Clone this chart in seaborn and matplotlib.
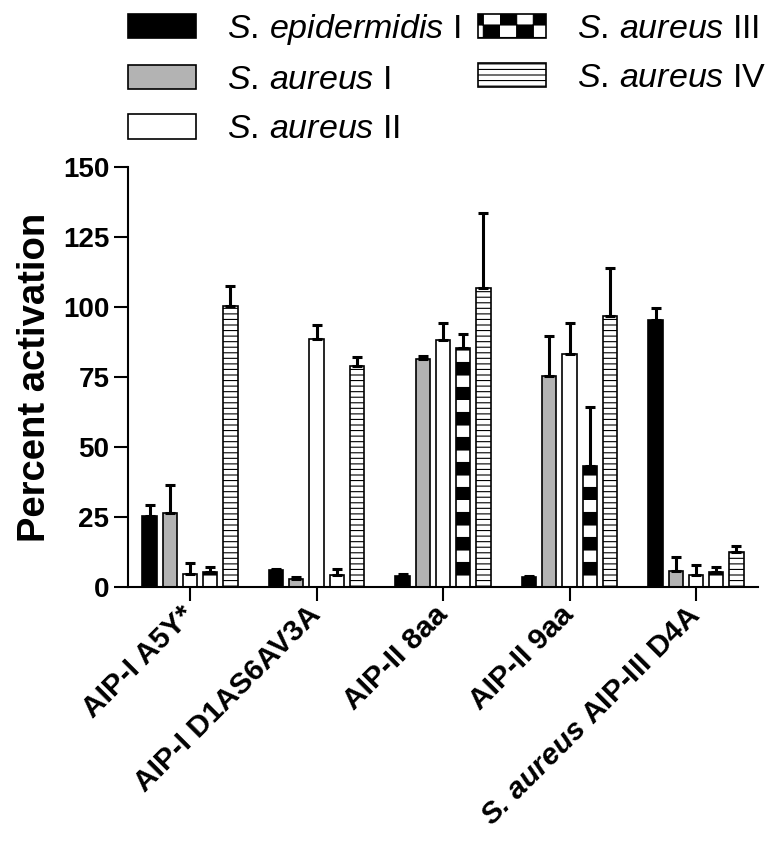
import numpy as np
import pandas as pd
import matplotlib
matplotlib.use('Agg')
import matplotlib.pyplot as plt
import matplotlib.patches as mpatches
from matplotlib import hatch as mhatch
from matplotlib.path import Path
import seaborn as sns

# Dados
groups = ['AIP-I A5Y*', 'AIP-I D1AS6AV3A', 'AIP-II 8aa', 'AIP-II 9aa', 'S. aureus AIP-III D4A']
group_labels = ['AIP-I A5Y*', 'AIP-I D1AS6AV3A', 'AIP-II 8aa', 'AIP-II 9aa',
                r'$\mathbf{S.\hspace{0.15}aureus}$ AIP-III D4A']
strains = ['S. epidermidis I', 'S. aureus I', 'S. aureus II', 'S. aureus III', 'S. aureus IV']
strain_labels = [r'$\mathit{S.\hspace{0.15}epidermidis}$ I', r'$\mathit{S.\hspace{0.15}aureus}$ I',
                 r'$\mathit{S.\hspace{0.15}aureus}$ II', r'$\mathit{S.\hspace{0.15}aureus}$ III',
                 r'$\mathit{S.\hspace{0.15}aureus}$ IV']

epi_1 = [25.5, 6.0, 4.0, 3.5, 95.5]
aur_1 = [26.5, 3.0, 81.5, 75.5, 5.7]
aur_2 = [4.5, 88.5, 88.2, 83.2, 4.3]
aur_3 = [5.3, 4.2, 85.4, 43.2, 5.3]
aur_4 = [100.5, 79.0, 106.8, 96.8, 12.5]

epi_1_err = [3.8, 0.6, 0.6, 0.5, 4.1]
aur_1_err = [9.9, 0.6, 1.0, 14.1, 5.0]
aur_2_err = [4.0, 5.0, 6.1, 11.1, 3.5]
aur_3_err = [1.8, 2.2, 5.0, 21.1, 1.8]
aur_4_err = [7.0, 3.0, 26.7, 17.2, 2.1]

values = [epi_1, aur_1, aur_2, aur_3, aur_4]
errors = [epi_1_err, aur_1_err, aur_2_err, aur_3_err, aur_4_err]

colors = ['black', '#b3b3b3', 'white', 'white', 'white']
hatches = [None, None, None, '*', '---']
legend_hatches = [None, None, None, 'O', '---']


# Padrões de hachura próprios: '*' -> faixas pretas, 'O' -> xadrez
class BandHatch(mhatch.HatchPatternBase):
    def __init__(self, hatch, density):
        self.n = 4 if '*' in hatch else 0
        self.num_vertices = self.n * 5

    def set_vertices_and_codes(self, vertices, codes):
        for i in range(self.n):
            y0 = i / self.n
            y1 = y0 + 0.5 / self.n
            vertices[i * 5:(i + 1) * 5] = [(0, y0), (1, y0), (1, y1), (0, y1), (0, y0)]
            codes[i * 5:(i + 1) * 5] = [Path.MOVETO, Path.LINETO, Path.LINETO,
                                        Path.LINETO, Path.CLOSEPOLY]


class CheckerHatch(mhatch.HatchPatternBase):
    def __init__(self, hatch, density):
        nx, ny = (6, 8) if 'O' in hatch else (0, 0)
        self.nx, self.ny = nx, ny
        self.cells = [(i, j) for i in range(nx) for j in range(ny) if (i + j) % 2 == 0]
        self.num_vertices = len(self.cells) * 5

    def set_vertices_and_codes(self, vertices, codes):
        for k, (i, j) in enumerate(self.cells):
            x0, x1 = i / self.nx, (i + 1) / self.nx
            y0, y1 = j / self.ny, (j + 1) / self.ny
            vertices[k * 5:(k + 1) * 5] = [(x0, y0), (x1, y0), (x1, y1), (x0, y1), (x0, y0)]
            codes[k * 5:(k + 1) * 5] = [Path.MOVETO, Path.LINETO, Path.LINETO,
                                        Path.LINETO, Path.CLOSEPOLY]


mhatch._hatch_types = [h for h in mhatch._hatch_types
                       if h not in (mhatch.LargeCircles, mhatch.Stars)] + [BandHatch, CheckerHatch]

rows = []
for s, vals in zip(strains, values):
    for g, v in zip(groups, vals):
        rows.append({'group': g, 'strain': s, 'value': v})
df = pd.DataFrame(rows)

sns.set_style('ticks')
plt.rcParams['font.family'] = ['Liberation Sans', 'DejaVu Sans']
plt.rcParams['mathtext.fontset'] = 'custom'
plt.rcParams['mathtext.rm'] = 'Liberation Sans'
plt.rcParams['mathtext.it'] = 'Liberation Sans:italic'
plt.rcParams['mathtext.bf'] = 'Liberation Sans:bold:italic'
plt.rcParams['hatch.linewidth'] = 0.8
plt.rcParams['hatch.color'] = 'black'
for k in ['text.color', 'axes.labelcolor', 'xtick.color', 'ytick.color']:
    plt.rcParams[k] = 'black'

fig = plt.figure(figsize=(7.82, 8.43), dpi=100)
ax = fig.add_axes([0.1637, 0.3037, 0.8056, 0.4982])

sns.barplot(data=df, x='group', y='value', hue='strain', order=groups, hue_order=strains,
            palette=colors, saturation=1, errorbar=None, width=0.8, gap=0.3,
            edgecolor='black', linewidth=1.2, legend=False, ax=ax)

for cont, h, err in zip(ax.containers, hatches, errors):
    xs = [p.get_x() + p.get_width() / 2 for p in cont]
    ys = [p.get_height() for p in cont]
    for p in cont:
        if h:
            p.set_hatch(h)
    ax.errorbar(xs, ys, yerr=[np.zeros(len(err)), err], fmt='none', ecolor='black',
                elinewidth=2.2, capsize=3.6, capthick=2.2, zorder=1)

ax.set_ylim(0, 150)
ax.set_xlim(-0.49, 4.49)
ax.set_yticks([0, 25, 50, 75, 100, 125, 150])
ax.set_xticks(range(len(groups)))
ax.set_xticklabels(group_labels, rotation=45, ha='right', va='center',
                   rotation_mode='anchor', fontweight='bold', fontsize=21.5)
for lab in ax.get_yticklabels():
    lab.set_fontweight('bold')
    lab.set_fontsize(20)
ax.tick_params(axis='both', width=1.5, length=10, color='black')
ax.tick_params(axis='x', pad=7)
ax.set_xlabel('')
ax.set_ylabel('Percent activation', fontsize=27.5, fontweight='bold', labelpad=7)
sns.despine(ax=ax)
for sp in ['left', 'bottom']:
    ax.spines[sp].set_linewidth(1.5)
    ax.spines[sp].set_color('black')

handles = [mpatches.Patch(facecolor=c, edgecolor='black', linewidth=1.2, hatch=h)
           for c, h in zip(colors, legend_hatches)]
fig.legend(handles, strain_labels, ncol=2, loc='upper left', bbox_to_anchor=(0.1637, 0.986),
           frameon=False, fontsize=24.5, handlelength=2.0, handleheight=0.735,
           handletextpad=0.91, columnspacing=0.5, labelspacing=0.53,
           borderpad=0, borderaxespad=0)

fig.savefig('out.png', dpi=100)
